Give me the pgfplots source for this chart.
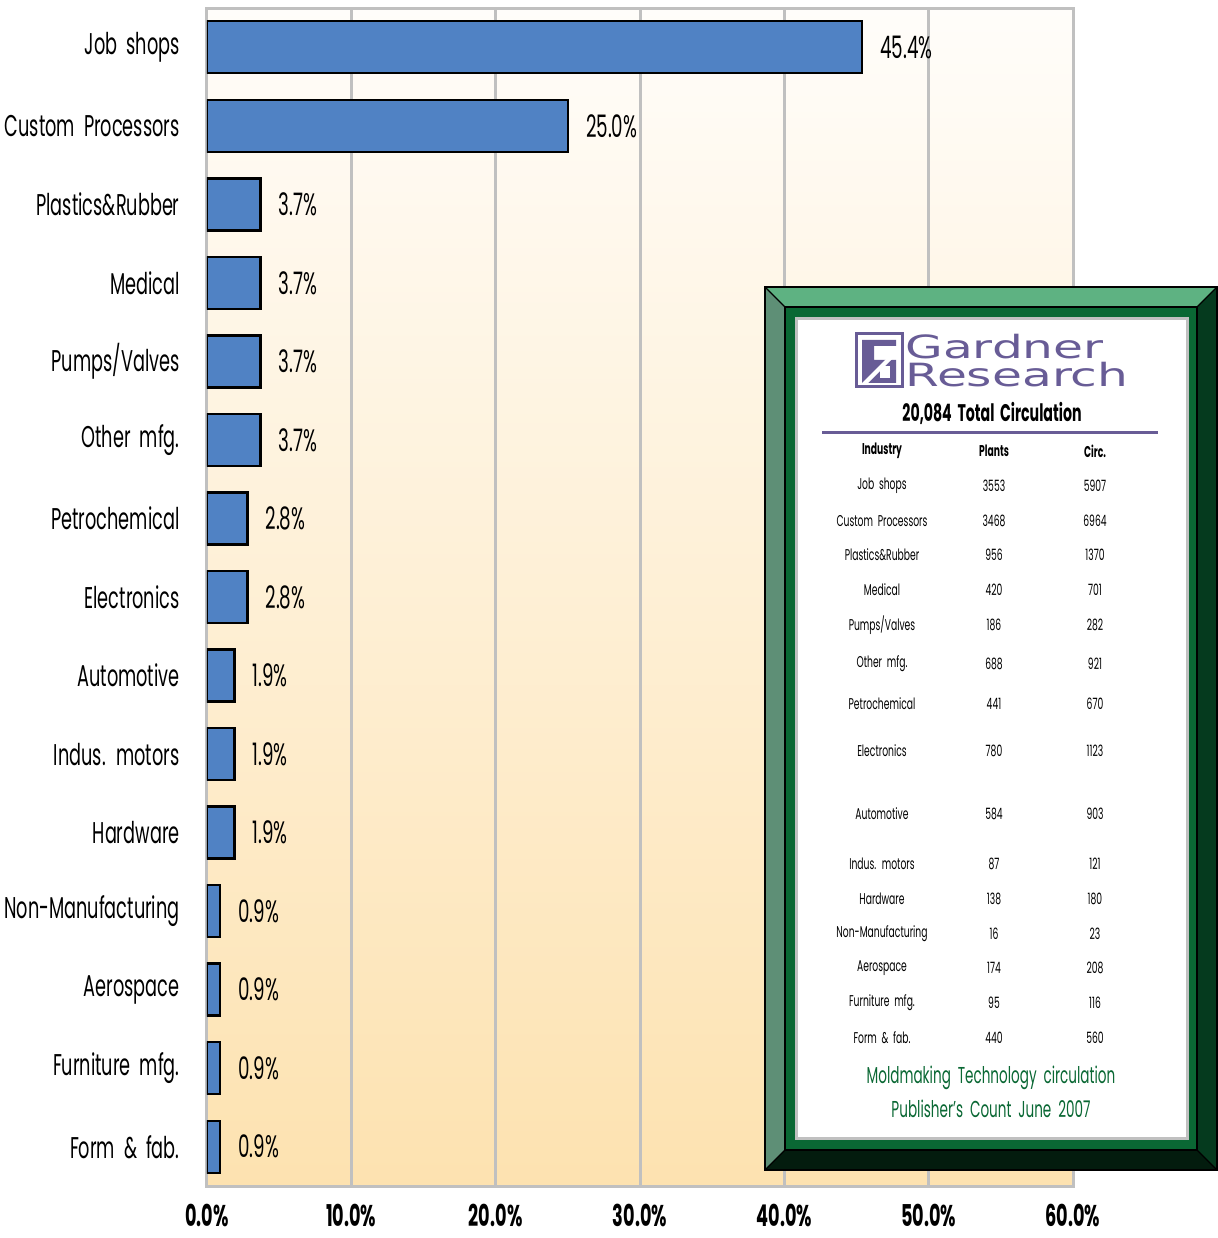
\documentclass[border=0pt]{standalone}
\usepackage{fontspec}
\setmainfont{Poppins}[FakeStretch=0.59, WordSpace=1.9]
\newfontfamily\logofont[FakeStretch=1.52]{DejaVu Sans}
\usepackage{pgfplots}
\pgfplotsset{compat=1.18}
\usetikzlibrary{calc}

\definecolor{barblue}{RGB}{80,130,196}
\definecolor{bgtop}{RGB}{255,253,250}
\definecolor{bgbot}{RGB}{253,226,176}
\definecolor{gridgray}{RGB}{192,192,192}
\definecolor{logopurple}{RGB}{104,92,150}
\definecolor{framegreen}{RGB}{10,104,52}
\definecolor{bevtop}{RGB}{94,178,130}
\definecolor{bevleft}{RGB}{94,143,118}
\definecolor{bevright}{RGB}{5,58,30}
\definecolor{bevbot}{RGB}{3,28,14}

\begin{document}
\begin{tikzpicture}
\useasboundingbox (0,0) rectangle (608.5pt,619pt);
\begin{axis}[
    at={(103.5pt,26pt)}, anchor=south west,
    width=433pt, height=589pt, scale only axis,
    xbar, bar width=26pt, bar shift=0pt,
    xmin=0, xmax=60, ymin=-0.5, ymax=14.5,
    y dir=reverse,
    ytick={0,...,14},
    yticklabels={Job shops, Custom Processors, Plastics\&Rubber, Medical,
        Pumps/Valves, Other mfg., Petrochemical, Electronics, Automotive,
        Indus. motors, Hardware, Non-Manufacturing, Aerospace,
        Furniture mfg., Form \& fab.},
    xtick={0,10,...,60},
    xticklabel={\pgfmathprintnumber[fixed,fixed zerofill,precision=1]{\tick}\%},
    /pgf/number format/assume math mode=true,
    xticklabel style={font=\fontsize{15pt}{17pt}\selectfont\bfseries, inner sep=0pt, yshift=-9pt},
    yticklabel style={font=\fontsize{15pt}{17pt}\selectfont, inner sep=0pt, xshift=-13.5pt},
    major tick length=0pt,
    xmajorgrids,
    grid style={gridgray, line width=1.5pt},
    axis line style={gridgray, line width=1.5pt},
    axis background/.style={top color=bgtop, bottom color=bgbot},
    nodes near coords={\pgfmathprintnumber[fixed,fixed zerofill,precision=1]{\pgfplotspointmeta}\%},
    nodes near coords align={horizontal},
    every node near coord/.append style={anchor=west, inner sep=0pt, xshift=8.5pt,
        font=\fontsize{15.5pt}{17pt}\selectfont, black},
]
\addplot[fill=barblue, draw=black, line width=1.2pt] coordinates {
(45.4,0) (25.0,1) (3.7,2) (3.7,3) (3.7,4) (3.7,5) (2.8,6) (2.8,7)
(1.9,8) (1.9,9) (1.9,10) (0.9,11) (0.9,12) (0.9,13) (0.9,14)
};
\end{axis}

% inset panel, coordinates in pixels of the reference (origin top left)
\begin{scope}[shift={(0,619pt)}, x=0.5pt, y=-0.5pt]
\fill[bevtop] (765,287) -- (1217,287) -- (1197,307) -- (785,307) -- cycle;
\fill[bevleft] (765,287) -- (785,307) -- (785,1150) -- (765,1170) -- cycle;
\fill[bevright] (1217,287) -- (1217,1170) -- (1197,1150) -- (1197,307) -- cycle;
\fill[bevbot] (765,1170) -- (785,1150) -- (1197,1150) -- (1217,1170) -- cycle;
\fill[framegreen] (785,307) rectangle (1197,1150);
\draw[black, line width=0.6pt] (765,287) rectangle (1217,1170);
\draw[black, line width=0.6pt] (785,307) rectangle (1197,1150);
\draw[black, line width=0.6pt] (765,287) -- (785,307) (1217,287) -- (1197,307)
    (765,1170) -- (785,1150) (1217,1170) -- (1197,1150);
\filldraw[fill=white, draw=gridgray, line width=1.5pt] (796,319) rectangle (1187,1139);

% logo
\draw[logopurple, line width=1.5pt] (856,334) rectangle (902,387);
\fill[logopurple] (862,340) -- (896,340) -- (896,346) -- (874,346) -- (874,360) -- (896,360)
    -- (896,383) -- (862,383) -- cycle;
\fill[white] (862,383) -- (896,349) -- (896,355) -- (868,383) -- cycle;
\fill[white] (880,366) rectangle (890,378);
\node[logopurple, anchor=base west, inner sep=0pt, font=\logofont\fontsize{16pt}{16pt}\selectfont] at (905,359) {Gardner};
\node[logopurple, anchor=base west, inner sep=0pt, font=\logofont\fontsize{16pt}{16pt}\selectfont] at (905,387) {Research};

\node[font=\fontsize{12pt}{14pt}\selectfont\bfseries] at (992,413) {20,084 Total Circulation};
\draw[logopurple, line width=1.5pt] (822,433) -- (1158,433);

\begin{scope}[every node/.style={font=\fontsize{7.8pt}{9pt}\selectfont}]
\node[font=\fontsize{7.8pt}{9pt}\selectfont\bfseries] at (882,451) {Industry};
\node[font=\fontsize{7.8pt}{9pt}\selectfont\bfseries] at (994,451) {Plants};
\node[font=\fontsize{7.8pt}{9pt}\selectfont\bfseries] at (1095,451) {Circ.};
\foreach \nm/\pl/\ci/\yy in {
    {Job shops}/3553/5907/486,
    {Custom Processors}/3468/6964/521,
    {Plastics\&Rubber}/956/1370/555,
    {Medical}/420/701/590,
    {Pumps/Valves}/186/282/625,
    {Other mfg.}/688/921/664,
    {Petrochemical}/441/670/704,
    {Electronics}/780/1123/751,
    {Automotive}/584/903/814,
    {Indus. motors}/87/121/864,
    {Hardware}/138/180/899,
    {Non-Manufacturing}/16/23/934,
    {Aerospace}/174/208/968,
    {Furniture mfg.}/95/116/1003,
    {Form \& fab.}/440/560/1038}{
  \node at (882,\yy) {\nm};
  \node at (994,\yy) {\pl};
  \node at (1095,\yy) {\ci};
}
\end{scope}

\node[framegreen, font=\fontsize{11.5pt}{13pt}\selectfont] at (991,1078) {Moldmaking Technology circulation};
\node[framegreen, font=\fontsize{11.5pt}{13pt}\selectfont] at (991,1109) {Publisher’s Count June 2007};
\end{scope}
\end{tikzpicture}
\end{document}
